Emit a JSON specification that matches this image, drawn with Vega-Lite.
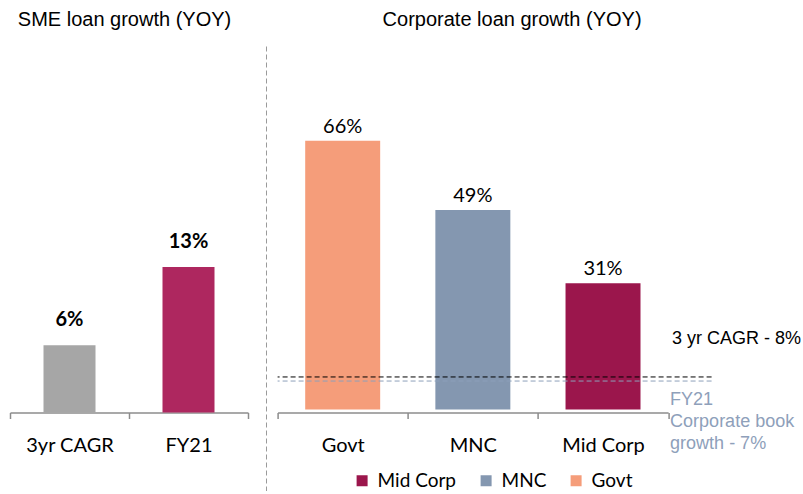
{
  "$schema": "https://vega.github.io/schema/vega-lite/v6.json",
  "background": "white",
  "padding": {"left": 9, "top": 10, "right": 0, "bottom": 0},
  "bounds": "flush",
  "spacing": 29.6,
  "config": {
    "view": {"stroke": null},
    "font": "Lato",
    "title": {"font": "Liberation Sans", "fontSize": 20, "fontWeight": "normal", "color": "#000000", "baseline": "alphabetic", "offset": 13, "anchor": "middle"},
    "axisX": {
      "title": null, "labelAngle": 0, "labelFont": "Lato", "labelFontSize": 20, "labelColor": "#000000",
      "labelPadding": 17, "domainColor": "#8C8C8C", "domainWidth": 1.5, "tickColor": "#8C8C8C",
      "tickWidth": 1.5, "tickSize": 6, "tickBand": "extent", "offset": -78.5, "grid": false
    }
  },
  "resolve": {"scale": {"x": "independent", "y": "independent", "color": "independent"}},
  "hconcat": [
    {
      "title": {"text": "SME loan growth (YOY)", "dx": -4.5},
      "width": 238,
      "height": 448,
      "data": {"values": [
        {"period": "3yr CAGR", "growth": 0.06},
        {"period": "FY21", "growth": 0.13}
      ]},
      "encoding": {
        "x": {"field": "period", "type": "nominal", "sort": null, "scale": {"paddingInner": 0, "paddingOuter": 0}},
        "y": {"field": "growth", "type": "quantitative", "scale": {"domain": [-0.0701, 0.33]}, "axis": null}
      },
      "layer": [
        {
          "mark": {"type": "bar", "width": {"band": 0.437}},
          "encoding": {
            "y2": {"datum": 0},
            "color": {"field": "period", "type": "nominal", "scale": {"domain": ["3yr CAGR", "FY21"], "range": ["#A6A6A6", "#AE275F"]}, "legend": null}
          }
        },
        {
          "mark": {"type": "text", "font": "Lato", "fontSize": 20, "fontWeight": "bold", "baseline": "alphabetic", "dy": -19, "color": "#000000"},
          "encoding": {"text": {"field": "growth", "type": "quantitative", "format": ".0%"}}
        }
      ]
    },
    {
      "title": {"text": "Corporate loan growth (YOY)", "dx": 17.5},
      "width": 434,
      "height": 448,
      "layer": [
        {
          "data": {"values": [
            {"segment": "Govt", "growth": 0.66},
            {"segment": "MNC", "growth": 0.49},
            {"segment": "Mid Corp", "growth": 0.31}
          ]},
          "encoding": {
            "x": {"field": "segment", "type": "nominal", "sort": ["Govt", "MNC", "Mid Corp"], "scale": {"paddingInner": 0, "paddingOuter": 0, "range": [0, 390.5]}},
            "y": {"field": "growth", "type": "quantitative", "scale": {"domain": [-0.19, 0.895]},
                  "axis": {"domain": true, "domainDash": [5, 3], "domainColor": "#9A9A9A", "domainWidth": 1, "ticks": false, "labels": false, "title": null, "grid": false, "offset": 11.6}}
          },
          "layer": [
            {
              "mark": {"type": "bar", "width": {"band": 0.576}},
              "encoding": {
                "y2": {"datum": 0},
                "color": {"field": "segment", "type": "nominal",
                  "scale": {"domain": ["Mid Corp", "MNC", "Govt"], "range": ["#9B164C", "#8497B0", "#F59D7A"]},
                  "legend": {"orient": "none", "legendX": 75, "legendY": 428, "direction": "horizontal", "title": null,
                    "symbolType": "square", "symbolSize": 121, "symbolStrokeWidth": 0, "symbolOpacity": 1,
                    "labelFont": "Lato", "labelFontSize": 19, "labelColor": "#000000", "labelOffset": 6, "columnPadding": 20, "padding": 0}
                }
              }
            },
            {
              "mark": {"type": "text", "font": "Lato", "fontSize": 20, "baseline": "alphabetic", "dy": -8, "color": "#000000"},
              "encoding": {"text": {"field": "growth", "type": "quantitative", "format": ".0%"}}
            }
          ]
        },
        {
          "data": {"values": [{"benchmark": "3 yr CAGR", "growth": 0.08}]},
          "mark": {"type": "rule", "color": "#000000", "strokeDash": [5, 3], "strokeWidth": 1},
          "encoding": {"y": {"field": "growth", "type": "quantitative"}}
        },
        {
          "data": {"values": [{"benchmark": "FY21 Corporate book", "growth": 0.07}]},
          "mark": {"type": "rule", "color": "#8EA0BA", "strokeDash": [5, 3], "strokeWidth": 1},
          "encoding": {"y": {"field": "growth", "type": "quantitative"}}
        },
        {
          "data": {"values": [{"note": "3 yr CAGR - 8%", "growth": 0.08}]},
          "mark": {"type": "text", "font": "Liberation Sans", "fontSize": 18, "align": "left", "baseline": "alphabetic", "dx": 4, "dy": -32.5, "color": "#000000"},
          "encoding": {
            "x": {"datum": "Mid Corp", "bandPosition": 1},
            "y": {"field": "growth", "type": "quantitative"},
            "text": {"field": "note"}
          }
        },
        {
          "data": {"values": [{"note": "\u00a0FY21\nCorporate book\ngrowth - 7%", "growth": 0.07}]},
          "mark": {"type": "text", "font": "Liberation Sans", "fontSize": 18, "lineBreak": "\n", "lineHeight": 22, "align": "left", "baseline": "alphabetic", "dx": 2, "dy": 24.4, "color": "#8EA0BA"},
          "encoding": {
            "x": {"datum": "Mid Corp", "bandPosition": 1},
            "y": {"field": "growth", "type": "quantitative"},
            "text": {"field": "note"}
          }
        }
      ]
    }
  ]
}
